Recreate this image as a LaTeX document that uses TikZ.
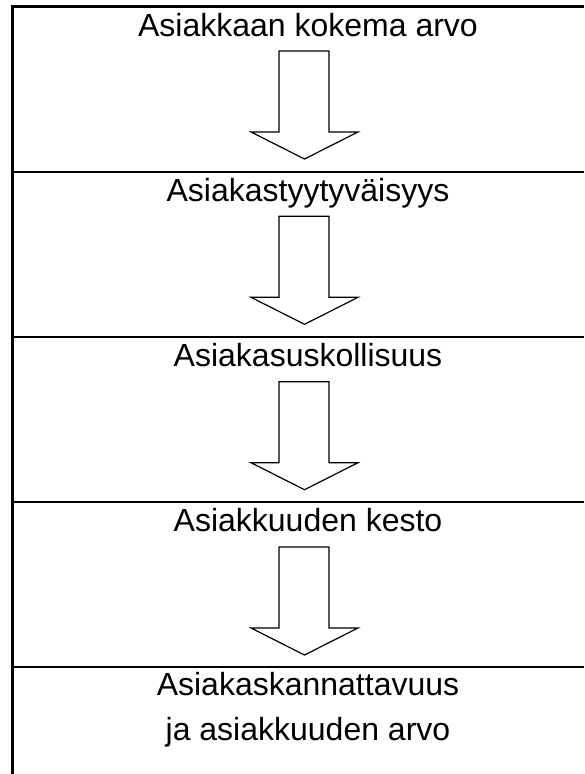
\documentclass[tikz,border=0pt]{standalone}
\usepackage{fontspec}
\setmainfont{Liberation Sans}
\begin{document}
\begin{tikzpicture}[x=1pt,y=-1pt,
  rule/.style={line width=2.8pt},
  blockarrow/.style={draw=black,fill=white,line width=1.2pt,line join=miter},
  lbl/.style={anchor=base,inner sep=0pt,font=\fontsize{32}{38}\selectfont}]
\useasboundingbox (0,0) rectangle (584,774);
% frame
\draw[rule] (12.5,6.5) -- (584,6.5);
\draw[rule] (12.5,5.1) -- (12.5,774);
\foreach \y in {172,337,502,667} \draw[rule] (12.5,\y) -- (584,\y);
% labels
\node[lbl] (t1) at (308,36) {Asiakkaan kokema arvo};
\node[lbl] (t2) at (308,201.5) {Asiakastyytyväisyys};
\node[lbl] (t3) at (308,366.5) {Asiakasuskollisuus};
\node[lbl] (t4) at (308,531.5) {Asiakkuuden kesto};
\node[lbl] (t5) at (308,695.5) {Asiakaskannattavuus};
\node[lbl] (t6) at (308,740) {ja asiakkuuden arvo};
% block arrows
\foreach \t in {51,216.3,381.7,547}{
  \draw[blockarrow] (279,\t) -- (329,\t) -- (329,\t+81) -- (358,\t+81)
     -- (304.5,\t+108) -- (251,\t+81) -- (279,\t+81) -- cycle;
}
\end{tikzpicture}
\end{document}
